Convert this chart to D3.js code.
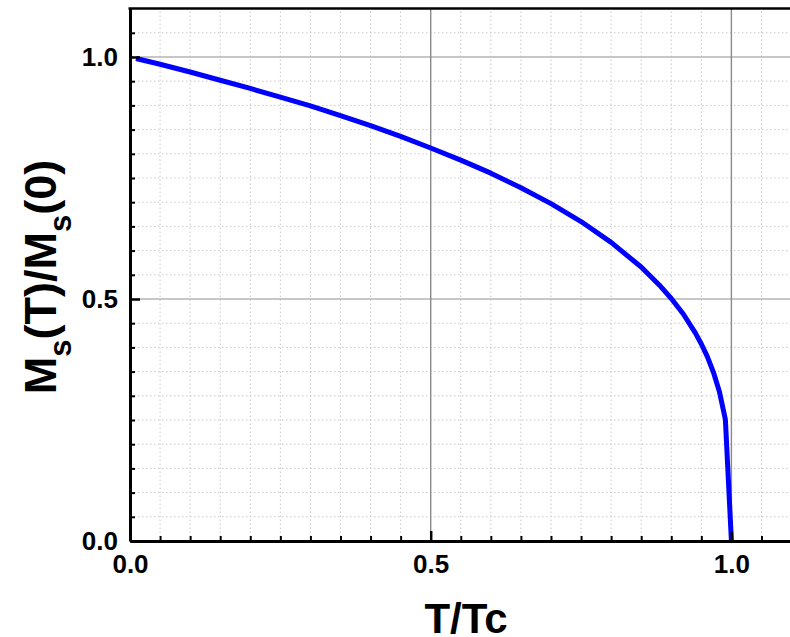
<!DOCTYPE html>
<html>
<head>
<meta charset="utf-8">
<script src="https://cdn.jsdelivr.net/npm/d3@7"></script>
<style>
  html, body { margin: 0; padding: 0; background: #fff; }
  svg { display: block; }
  text { font-family: Arial, "Liberation Sans", sans-serif; font-weight: bold; fill: #000; }
</style>
</head>
<body>
<svg id="chart" width="790" height="637"></svg>
<script>
// Reduced temperature T/Tc and normalised saturation magnetisation Ms(T)/Ms(0)
const tValues = [0.01, 0.05, 0.10, 0.15, 0.20, 0.25, 0.30, 0.35, 0.40, 0.45, 0.50,
                 0.55, 0.60, 0.65, 0.70, 0.75, 0.80, 0.85, 0.88, 0.90, 0.92, 0.94,
                 0.95, 0.96, 0.97, 0.98, 0.99, 1.00];
const mValues = [0.997, 0.985, 0.969, 0.952, 0.935, 0.917, 0.899, 0.879, 0.858, 0.836, 0.812,
                 0.787, 0.760, 0.730, 0.697, 0.660, 0.617, 0.566, 0.529, 0.501, 0.469, 0.430,
                 0.407, 0.381, 0.349, 0.309, 0.251, 0.000];

const xTickValues = [0.0, 0.5, 1.0];
const yTickValues = [0.0, 0.5, 1.0];
const xTickLabels = ["0.0", "0.5", "1.0"];
const yTickLabels = ["0.0", "0.5", "1.0"];
const xTitle = "T/Tc";

const svg = d3.select("#chart");
const plotLeft = 130, plotBottom = 541;

const x = d3.scaleLinear().domain([0, 1.1]).range([plotLeft, plotLeft + 601.4 * 1.1]);
const y = d3.scaleLinear().domain([0, 1.1]).range([plotBottom, plotBottom - 484 * 1.1]);

const minorSteps = d3.range(1, 22).map(i => i * 0.05).filter(v => Math.abs(v * 2 - Math.round(v * 2)) > 1e-6);

// minor dotted grid
const grid = svg.append("g");
grid.selectAll("line.vminor").data(minorSteps).join("line")
  .attr("x1", d => x(d)).attr("x2", d => x(d))
  .attr("y1", y(0)).attr("y2", y(1.1))
  .attr("stroke", "#c8c8c8").attr("stroke-width", 1).attr("stroke-dasharray", "1.5,2.5");
grid.selectAll("line.hminor").data(minorSteps).join("line")
  .attr("y1", d => y(d)).attr("y2", d => y(d))
  .attr("x1", x(0)).attr("x2", x(1.1))
  .attr("stroke", "#c8c8c8").attr("stroke-width", 1).attr("stroke-dasharray", "1.5,2.5");

// major grid
grid.selectAll("line.hmajor").data([0.5, 1.0]).join("line")
  .attr("y1", d => y(d)).attr("y2", d => y(d))
  .attr("x1", x(0)).attr("x2", x(1.1))
  .attr("stroke", "#b4b4b4").attr("stroke-width", 1.6);
grid.selectAll("line.vmajor").data([0.5, 1.0]).join("line")
  .attr("x1", d => x(d)).attr("x2", d => x(d))
  .attr("y1", y(0)).attr("y2", y(1.1))
  .attr("stroke", "#8a8a8a").attr("stroke-width", 1.4);

// magnetisation curve
const line = d3.line().x(d => x(d[0])).y(d => y(d[1]));
svg.append("path")
  .datum(tValues.map((t, i) => [t, mValues[i]]))
  .attr("d", line)
  .attr("fill", "none")
  .attr("stroke", "#0000ff")
  .attr("stroke-width", 5)
  .attr("stroke-linejoin", "round");

// minor ticks (inward)
svg.append("g").attr("transform", `translate(0,${plotBottom})`)
  .call(d3.axisBottom(x).tickValues(minorSteps).tickSize(-5).tickFormat(""))
  .call(g => g.select(".domain").remove())
  .call(g => g.selectAll("line").attr("stroke-width", 2));
svg.append("g").attr("transform", `translate(${plotLeft},0)`)
  .call(d3.axisLeft(y).tickValues(minorSteps).tickSize(-5).tickFormat(""))
  .call(g => g.select(".domain").remove())
  .call(g => g.selectAll("line").attr("stroke-width", 2));

// major axes
const xAxis = svg.append("g").attr("transform", `translate(0,${plotBottom})`)
  .call(d3.axisBottom(x).tickValues(xTickValues).tickSizeInner(-10).tickSizeOuter(0)
    .tickPadding(14).tickFormat((d, i) => xTickLabels[i]));
const yAxis = svg.append("g").attr("transform", `translate(${plotLeft},0)`)
  .call(d3.axisLeft(y).tickValues(yTickValues).tickSizeInner(-10).tickSizeOuter(0)
    .tickPadding(12).tickFormat((d, i) => yTickLabels[i]));
[xAxis, yAxis].forEach(g => {
  g.select(".domain").attr("stroke-width", 3).attr("stroke", "#000");
  g.selectAll(".tick line").attr("stroke-width", 2.5);
  g.selectAll("text").attr("font-size", 26).attr("font-family", null).attr("fill", "#000");
});

// top frame
svg.append("line")
  .attr("x1", x(0) - 1.5).attr("x2", x(1.1))
  .attr("y1", y(1.1)).attr("y2", y(1.1))
  .attr("stroke", "#000").attr("stroke-width", 2.5);

// axis titles
svg.append("text")
  .attr("x", 466).attr("y", 633)
  .attr("text-anchor", "middle")
  .attr("font-size", 42)
  .text(xTitle);

const yTitle = svg.append("text")
  .attr("transform", "translate(56,277) rotate(-90)")
  .attr("text-anchor", "middle")
  .attr("font-size", 45);
yTitle.append("tspan").text("M");
yTitle.append("tspan").attr("font-size", 31).attr("dy", 15).text("s");
yTitle.append("tspan").attr("dy", -15).text("(T)/M");
yTitle.append("tspan").attr("font-size", 31).attr("dy", 15).text("s");
yTitle.append("tspan").attr("dy", -15).text("(0)");
</script>
</body>
</html>
